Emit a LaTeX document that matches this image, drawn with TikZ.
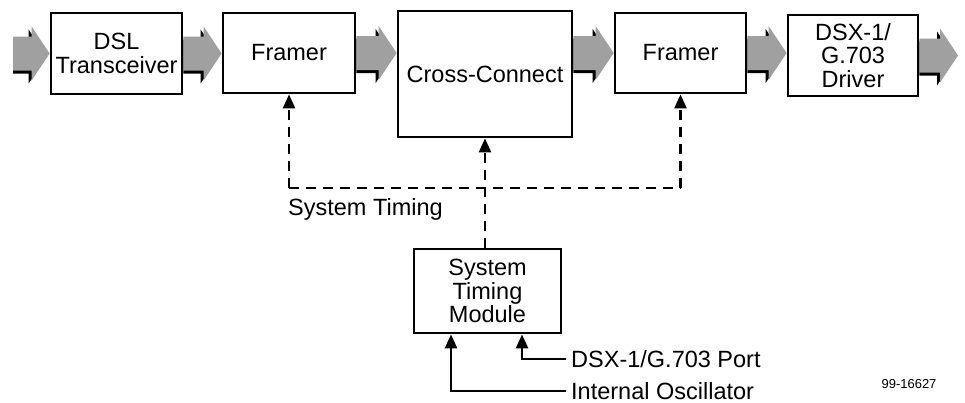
\documentclass[tikz,border=0pt]{standalone}
\usepackage{fontspec}
\setmainfont{Liberation Sans}
\usetikzlibrary{arrows.meta,calc}
\definecolor{arrowgray}{RGB}{160,160,160}

% gray data arrow with dark shadow, from #1 to the tip #2
\newcommand{\flowarrow}[2]{%
  \foreach \col/\off in {black/-3pt, arrowgray/0pt}
    \fill[\col] let \p1=(#1), \p2=(#2) in
      (\x1,\y1+17pt+\off) -- (\x2-18pt+\off,\y1+17pt+\off)
      -- (\x2-18pt+\off,\y1+27pt+\off) -- (\x2+\off,\y1+\off)
      -- (\x2-18pt+\off,\y1-27pt+\off) -- (\x2-18pt+\off,\y1-17pt+\off)
      -- (\x1,\y1-17pt+\off) -- cycle;}

\begin{document}
\begin{tikzpicture}[x=1pt,y=-1pt,
  block/.style={draw, line width=2.8pt, fill=white, align=center, inner sep=0pt,
    font=\fontsize{23.5}{23.5}\selectfont},
  tag/.style={inner sep=0pt, anchor=base west, font=\fontsize{23.5}{23.5}\selectfont},
  clock/.style={line width=2.6pt, dash pattern=on 10pt off 7pt,
    -{Triangle[length=14pt,width=12pt]}},
  feed/.style={line width=2.6pt, -{Triangle[length=14pt,width=12pt]}}]
\useasboundingbox (0,0) rectangle (965,402);

% Data path
  \node[block, minimum width=131pt, minimum height=81pt] (dsl) at (116.5,53.5) {DSL\\Transceiver};
  \node[block, minimum width=132pt, minimum height=80pt] (framerA) at (289,53) {Framer};
  \node[block, minimum width=174pt, minimum height=126pt] (cross) at (485,74) {Cross-Connect};
  \node[block, minimum width=131pt, minimum height=80pt] (framerB) at (680.5,53) {Framer};
  \node[block, minimum width=130pt, minimum height=81pt] (driver) at (853,55.5) {DSX-1/\\G.703\\Driver};
  \coordinate (in) at (13,53.5);
  \coordinate (out) at (958,55.5);

  \flowarrow{in}{in -| dsl.west}
  \flowarrow{dsl.east}{framerA.west}
  \flowarrow{framerA.east}{framerA.east -| cross.west}
  \flowarrow{framerB.west -| cross.east}{framerB.west}
  \flowarrow{framerB.east}{framerB.east -| driver.west}
  \flowarrow{driver.east}{out}

% Timing
  \node[block, minimum width=147pt, minimum height=84pt] (stm) at (487.5,291) {System\\Timing\\Module};
  \coordinate (busA) at (framerA.south |- 0,188);
  \coordinate (busB) at (framerB.south |- 0,188);
  \draw[clock] (busA) -- (framerA.south);
  \draw[clock] (busB) -- (framerB.south);
  \draw[line width=2.6pt, dash pattern=on 10pt off 7pt] (busA) -- (busB);
  \draw[clock] (cross.south |- stm.north) -- (cross.south);
  \node[tag] (bus) at (288,215) {System Timing};

% Reference inputs
  \node[tag] (port) at (571,367) {DSX-1/G.703 Port};
  \node[tag] (osc) at (571,399) {Internal Oscillator};
  \draw[feed] ([xshift=-5pt]port.west |- 0,359) -| ([xshift=34.5pt]stm.south);
  \draw[feed] ([xshift=-5pt]osc.west |- 0,391) -| ([xshift=-36.5pt]stm.south);

  \node[inner sep=0pt, font=\fontsize{13}{13}\selectfont] (fig) at (909,384) {99-16627};
\end{tikzpicture}
\end{document}
